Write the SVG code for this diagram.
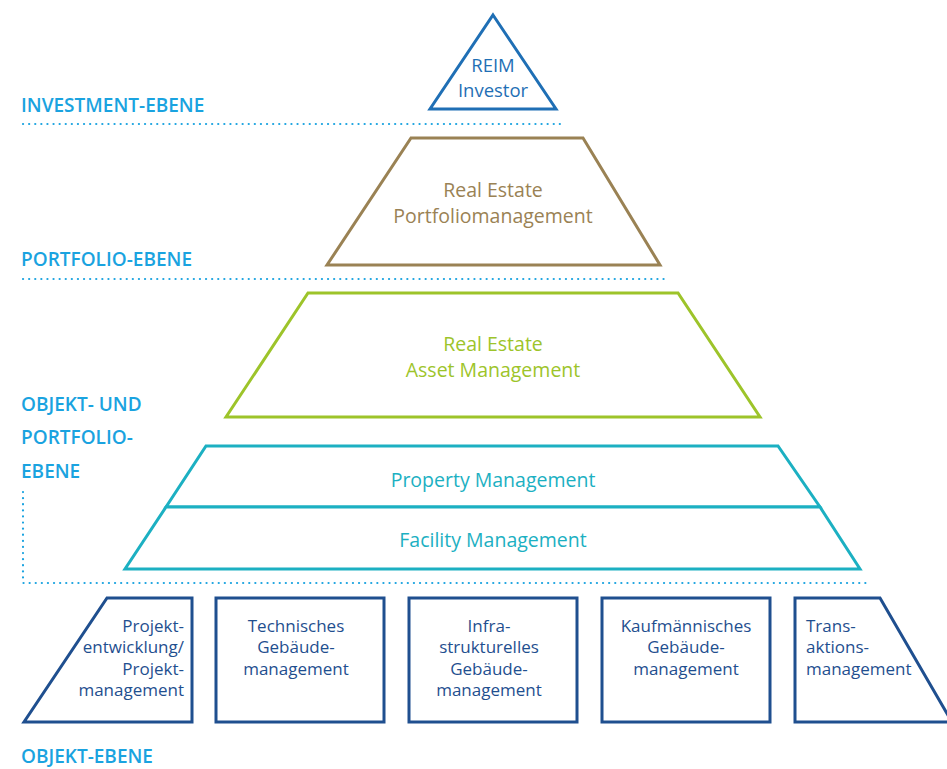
<svg xmlns="http://www.w3.org/2000/svg" width="947" height="769" viewBox="0 0 947 769">
<style>
  .lvl{font-family:"Open Sans","Liberation Sans",sans-serif;font-size:19px;font-weight:600;fill:#1aa3e0}
  .dot{fill:none;stroke:#1aa3e0;stroke-width:2.2;stroke-dasharray:0.1 6;stroke-linecap:round}
  .sh{fill:#fff;stroke-width:3;stroke-linejoin:miter}
  .t{font-family:"Open Sans","Liberation Sans",sans-serif;font-size:19.5px;font-weight:500;text-anchor:middle}
  .tr{font-size:18.5px}
  .s{font-family:"Open Sans","Liberation Sans",sans-serif;font-size:17px;font-weight:500;fill:#1f4f8f}
  .box{fill:#fff;stroke:#1f4f8f;stroke-width:3}
</style>
<rect width="947" height="769" fill="#fff"/>
<g id="levels">
  <text class="lvl" x="21" y="112">INVESTMENT-EBENE</text>
  <text class="lvl" x="21" y="266">PORTFOLIO-EBENE</text>
  <text class="lvl" x="21" y="411">OBJEKT- UND</text>
  <text class="lvl" x="21" y="444">PORTFOLIO-</text>
  <text class="lvl" x="21" y="478">EBENE</text>
  <text class="lvl" x="21" y="763">OBJEKT-EBENE</text>
</g>
<g id="connectors">
  <path class="dot" d="M23 124 H565"/>
  <path class="dot" d="M23 279 H665"/>
  <path class="dot" d="M23 492 V583 H870"/>
</g>
<g id="reim">
  <polygon class="sh" stroke="#1f6fb5" points="493,15 556,109 430,109"/>
  <text class="t tr" fill="#1f6fb5" x="493" y="72">REIM</text>
  <text class="t tr" fill="#1f6fb5" x="493" y="97">Investor</text>
</g>
<g id="portfolio">
  <polygon class="sh" stroke="#9a8254" points="411,138 583,138 660,265 327,265"/>
  <text class="t" fill="#9a8254" x="493" y="197">Real Estate</text>
  <text class="t" fill="#9a8254" x="493" y="223">Portfoliomanagement</text>
</g>
<g id="asset">
  <polygon class="sh" stroke="#9dc42a" points="308,293 678,293 760,417 226,417"/>
  <text class="t" fill="#9dc42a" x="493" y="351">Real Estate</text>
  <text class="t" fill="#9dc42a" x="493" y="377">Asset Management</text>
</g>
<g id="property">
  <polygon class="sh" stroke="#1cb0c2" points="206,446 778,446 820,507 166,507"/>
  <text class="t" fill="#1cb0c2" x="493" y="487">Property Management</text>
</g>
<g id="facility">
  <polygon class="sh" stroke="#1cb0c2" points="166,507 820,507 860,569 125,569"/>
  <text class="t" fill="#1cb0c2" x="493" y="547">Facility Management</text>
</g>
<g id="projekt">
  <polygon class="box" points="107,598 192,598 192,722 24,722"/>
  <text class="s" text-anchor="end" x="184" y="632">Projekt-</text>
  <text class="s" text-anchor="end" x="184" y="653">entwicklung/</text>
  <text class="s" text-anchor="end" x="184" y="675">Projekt-</text>
  <text class="s" text-anchor="end" x="184" y="696">management</text>
</g>
<g id="technisch">
  <rect class="box" x="216" y="598" width="168" height="124"/>
  <text class="s" text-anchor="middle" x="296" y="632">Technisches</text>
  <text class="s" text-anchor="middle" x="296" y="653">Gebäude-</text>
  <text class="s" text-anchor="middle" x="296" y="675">management</text>
</g>
<g id="infra">
  <rect class="box" x="409" y="598" width="168" height="124"/>
  <text class="s" text-anchor="middle" x="489" y="632">Infra-</text>
  <text class="s" text-anchor="middle" x="489" y="653">strukturelles</text>
  <text class="s" text-anchor="middle" x="489" y="675">Gebäude-</text>
  <text class="s" text-anchor="middle" x="489" y="696">management</text>
</g>
<g id="kaufm">
  <rect class="box" x="602" y="598" width="168" height="124"/>
  <text class="s" text-anchor="middle" x="686" y="632">Kaufmännisches</text>
  <text class="s" text-anchor="middle" x="686" y="653">Gebäude-</text>
  <text class="s" text-anchor="middle" x="686" y="675">management</text>
</g>
<g id="transaktion">
  <polygon class="box" points="795,598 880,598 952,722 795,722"/>
  <text class="s" x="806" y="632">Trans-</text>
  <text class="s" x="806" y="653">aktions-</text>
  <text class="s" x="806" y="675">management</text>
</g>
</svg>
